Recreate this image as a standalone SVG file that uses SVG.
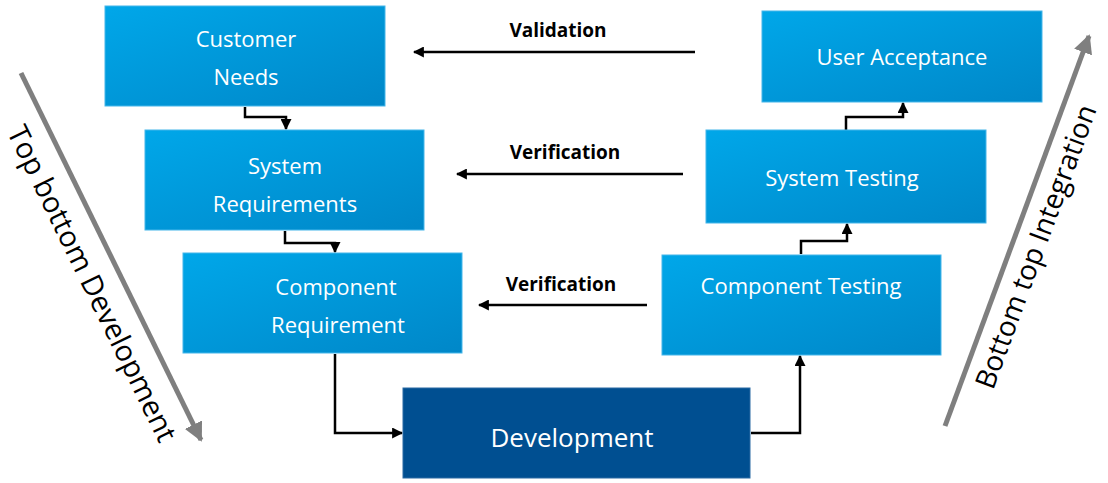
<svg xmlns="http://www.w3.org/2000/svg" width="1108" height="483" viewBox="0 0 1108 483">
<defs>
<linearGradient id="blue" x1="0" y1="0" x2="1" y2="1">
<stop offset="0" stop-color="#00a7e9"/>
<stop offset="1" stop-color="#0087c8"/>
</linearGradient>
<marker id="ah" viewBox="0 0 10 10" refX="9" refY="5" markerWidth="4.4" markerHeight="4.4" orient="auto" markerUnits="strokeWidth">
<path d="M0,0 L10,5 L0,10 z" fill="#000"/>
</marker>
<marker id="gh" viewBox="0 0 10 10" refX="9" refY="5" markerWidth="3.8" markerHeight="3.8" orient="auto" markerUnits="strokeWidth">
<path d="M0,0 L10,5 L0,10 z" fill="#7f7f7f"/>
</marker>
</defs>
<style>
.box{fill:url(#blue);stroke:#45b6ea;stroke-width:1}
.dev{fill:#004f91;stroke:#2a6aa3;stroke-width:1}
.t{font-family:"Open Sans","Liberation Sans",sans-serif;font-size:22px;fill:#fff;text-anchor:middle}
.lbl{font-family:"Open Sans","Liberation Sans",sans-serif;font-size:19px;font-weight:bold;fill:#000;text-anchor:middle}
.side{font-family:"Open Sans","Liberation Sans",sans-serif;font-size:29px;fill:#000;text-anchor:middle}
.c{fill:none;stroke:#000;stroke-width:2.5;marker-end:url(#ah)}
.g{fill:none;stroke:#7f7f7f;stroke-width:5;marker-end:url(#gh)}
</style>
<rect width="1108" height="483" fill="#fff"/>
<g id="connectors">
<path class="c" d="M245,107 V117 H286 V129"/>
<path class="c" d="M285,231 V243 H335 V252"/>
<path class="c" d="M335,354 V433 H402"/>
<path class="c" d="M751,433 H800 V356"/>
<path class="c" d="M801,254 V241 H847 V224"/>
<path class="c" d="M846,130 V117 H903 V103"/>
<path class="c" d="M695,52 H414"/>
<path class="c" d="M683,174 H457"/>
<path class="c" d="M647,305 H479"/>
<text class="lbl" x="558" y="37">Validation</text>
<text class="lbl" x="565" y="159">Verification</text>
<text class="lbl" x="561" y="291">Verification</text>
</g>
<g id="customer-needs">
<rect class="box" x="105" y="6" width="280" height="100"/>
<text class="t" x="246" y="47">Customer</text>
<text class="t" x="246" y="85">Needs</text>
</g>
<g id="system-requirements">
<rect class="box" x="145" y="130" width="279" height="100"/>
<text class="t" x="285" y="174">System</text>
<text class="t" x="285" y="212">Requirements</text>
</g>
<g id="component-requirement">
<rect class="box" x="183" y="253" width="279" height="100"/>
<text class="t" x="336" y="295">Component</text>
<text class="t" x="338" y="333">Requirement</text>
</g>
<g id="development">
<rect class="dev" x="403" y="388" width="347" height="90"/>
<text class="t" style="font-size:26px" x="572" y="447">Development</text>
</g>
<g id="component-testing">
<rect class="box" x="662" y="255" width="279" height="100"/>
<text class="t" x="801" y="294">Component Testing</text>
</g>
<g id="system-testing">
<rect class="box" x="706" y="130" width="280" height="93"/>
<text class="t" x="842" y="186">System Testing</text>
</g>
<g id="user-acceptance">
<rect class="box" x="762" y="11" width="280" height="91"/>
<text class="t" x="902" y="65">User Acceptance</text>
</g>
<g id="top-bottom-development">
<path class="g" d="M21,73 L201,440"/>
<text class="side" transform="translate(83,288) rotate(63.9)">Top bottom Development</text>
</g>
<g id="bottom-top-integration">
<path class="g" d="M945,426 L1089,36"/>
<text class="side" style="font-size:28px" transform="translate(1045,250) rotate(-69.7)">Bottom top Integration</text>
</g>
</svg>
